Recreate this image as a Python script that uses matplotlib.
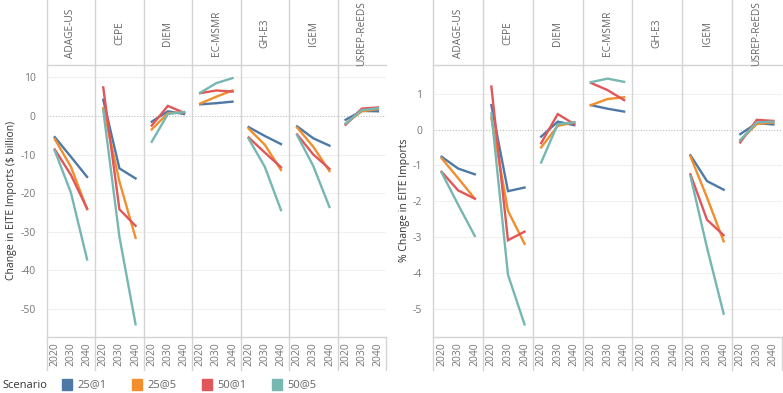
import matplotlib
matplotlib.use("Agg")
import matplotlib.pyplot as plt
from matplotlib.lines import Line2D
from matplotlib.patches import Rectangle

plt.rcParams["font.family"] = ["Open Sans", "DejaVu Sans"]

W, H = 783, 393

models = ["ADAGE-US", "CEPE", "DIEM", "EC-MSMR", "GH-E3", "IGEM", "USREP-ReEDS"]
years = [2020, 2030, 2040]
scenarios = ["25@1", "25@5", "50@1", "50@5"]
colors = ["#4e79a7", "#f28e2b", "#e15759", "#76b7b2"]

# change in EITE imports, $ billion (per model: 2020, 2030, 2040)
bil_25_1 = [[-5.5, -10.6, -15.8], [4.2, -13.6, -16.2], [-1.5, 1.2, 0.5],
            [3.0, 3.3, 3.7], [-2.9, -5.2, -7.3], [-2.7, -5.8, -7.7],
            [-1.0, 1.3, 1.2]]
bil_25_5 = [[-6.0, -13.2, -24.2], [2.0, -17.0, -31.6], [-3.5, 0.7, 1.0],
            [3.2, 5.0, 6.6], [-3.3, -7.5, -14.0], [-3.0, -8.0, -14.3],
            [-2.0, 1.2, 1.8]]
bil_50_1 = [[-8.7, -15.3, -24.0], [7.4, -24.2, -28.5], [-2.5, 2.6, 0.8],
            [5.9, 6.6, 6.3], [-5.6, -9.5, -13.3], [-4.8, -10.0, -13.7],
            [-2.3, 1.9, 2.2]]
bil_50_5 = [[-9.0, -19.9, -37.2], [1.5, -31.3, -54.0], [-6.7, 0.5, 1.0],
            [6.0, 8.5, 9.8], [-5.9, -13.2, -24.4], [-5.0, -13.0, -23.6],
            [-2.0, 1.5, 2.0]]

# % change in EITE imports (GH-E3 not reported)
pct_25_1 = [[-0.76, -1.09, -1.25], [0.68, -1.72, -1.62], [-0.2, 0.22, 0.12],
            [0.68, 0.58, 0.5], None, [-0.72, -1.44, -1.68],
            [-0.13, 0.18, 0.14]]
pct_25_5 = [[-0.8, -1.36, -1.93], [0.33, -2.27, -3.19], [-0.5, 0.1, 0.2],
            [0.68, 0.85, 0.9], None, [-0.75, -1.9, -3.12],
            [-0.3, 0.15, 0.2]]
pct_50_1 = [[-1.18, -1.7, -1.93], [1.2, -3.09, -2.85], [-0.38, 0.43, 0.15],
            [1.3, 1.1, 0.82], None, [-1.25, -2.52, -2.95],
            [-0.36, 0.27, 0.24]]
pct_50_5 = [[-1.2, -2.1, -2.97], [0.45, -4.05, -5.44], [-0.92, 0.15, 0.2],
            [1.32, 1.42, 1.33], None, [-1.3, -3.3, -5.14],
            [-0.3, 0.2, 0.22]]

charts = [
    dict(series=[bil_25_1, bil_25_5, bil_50_1, bil_50_5], left=46.7, right=386.0,
         ylim=(-57.3, 13.2), yticks=[10, 0, -10, -20, -30, -40, -50],
         ylabel="Change in EITE Imports ($ billion)", ylab_x=12),
    dict(series=[pct_25_1, pct_25_5, pct_50_1, pct_50_5], left=433.3, right=781.7,
         ylim=(-5.79, 1.80), yticks=[1, 0, -1, -2, -3, -4, -5],
         ylabel="% Change in EITE Imports", ylab_x=405),
]

fig = plt.figure(figsize=(W / 100, H / 100), dpi=100)
fig.patch.set_facecolor("white")

TOP, BOT, TICKBOT = 65, 337, 370
SEP = "#d4d4d4"


def fline(xs, ys):
    fig.add_artist(Line2D([x / W for x in xs], [1 - y / H for y in ys],
                          transform=fig.transFigure, color=SEP, lw=1.0))


for ch in charts:
    n = len(models)
    pw = (ch["right"] - ch["left"]) / n
    for i, m in enumerate(models):
        x0 = ch["left"] + i * pw
        ax = fig.add_axes([x0 / W, 1 - BOT / H, pw / W, (BOT - TOP) / H])
        for s in ax.spines.values():
            s.set_visible(False)
        ax.set_xlim(2015, 2045)
        ax.set_ylim(*ch["ylim"])
        for t in ch["yticks"]:
            if t == 0:
                ax.axhline(0, color="#bdbdbd", lw=0.8, ls=(0, (1, 1.5)), zorder=1)
            else:
                ax.axhline(t, color="#f0f0f0", lw=0.8, zorder=0)
        for vals, c in zip(ch["series"], colors):
            if vals[i] is not None:
                ax.plot(years, vals[i], color=c, lw=1.7, zorder=3,
                        solid_joinstyle="miter")
        ax.set_xticks(years)
        ax.set_xticklabels([str(y) for y in years], rotation=90,
                           fontsize=7.5, color="#777777")
        ax.tick_params(axis="x", length=0, pad=4)
        ax.set_yticks(ch["yticks"])
        if i == 0:
            ax.set_yticklabels([str(t) for t in ch["yticks"]], fontsize=7.5,
                               color="#777777")
            ax.tick_params(axis="y", length=0, pad=8)
        else:
            ax.tick_params(axis="y", length=0, labelleft=False)
        # panel header
        fig.text((x0 + pw / 2) / W, 1 - 33.5 / H, m, rotation=90, ha="center",
                 va="center", fontsize=7.3, color="#666666")
        fline([x0, x0], [0, TICKBOT])
    fline([ch["right"], ch["right"]], [BOT, TICKBOT])
    fline([ch["left"], ch["right"]], [TOP, TOP])
    fline([ch["left"], ch["right"]], [BOT, BOT])
    fig.text(ch["ylab_x"] / W, 1 - 200 / H, ch["ylabel"], rotation=90,
             ha="center", va="center", fontsize=7.5, color="#333333")

# legend
fig.text(2 / W, 1 - 385 / H, "Scenario", ha="left", va="center", fontsize=8,
         color="#333333")
for k, (lab, c) in enumerate(zip(scenarios, colors)):
    lx = 62 + k * 70
    fig.add_artist(Rectangle((lx / W, 1 - 390 / H), 10 / W, 11 / H,
                             transform=fig.transFigure, color=c))
    fig.text((lx + 15) / W, 1 - 385 / H, lab, ha="left", va="center",
             fontsize=8, color="#666666")

fig.savefig("out.png", dpi=100)
